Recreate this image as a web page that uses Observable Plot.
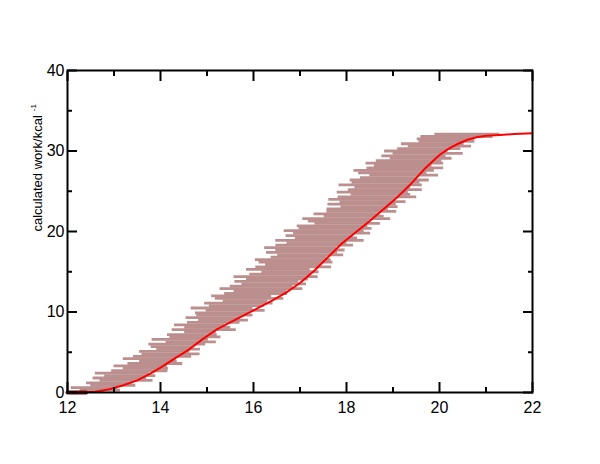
<!DOCTYPE html>
<html>
<head>
<meta charset="utf-8">
<script src="https://cdn.jsdelivr.net/npm/d3@7"></script>
<script src="https://cdn.jsdelivr.net/npm/@observablehq/plot@0.6"></script>
<style>
  html, body { margin: 0; padding: 0; background: #fff; }
  #chart { width: 600px; height: 464px; }
</style>
</head>
<body>
<div id="chart"></div>
<script>
// Band of horizontal x-error bars (y level, left end, right end)
const bandY = [0,0.3,0.6,0.9,1.2,1.5,1.8,2.1,2.4,2.7,3.0,3.3,3.6,3.9,4.2,4.5,4.8,5.1,5.4,5.7,6.0,6.3,6.6,6.9,7.2,7.5,7.8,8.1,8.4,8.7,9.0,9.3,9.6,9.9,10.2,10.5,10.8,11.1,11.4,11.7,12.0,12.3,12.6,12.9,13.2,13.5,13.8,14.1,14.4,14.7,15.0,15.3,15.6,15.9,16.2,16.5,16.8,17.1,17.4,17.7,18.0,18.3,18.6,18.9,19.2,19.5,19.8,20.1,20.4,20.7,21.0,21.3,21.6,21.9,22.2,22.5,22.8,23.1,23.4,23.7,24.0,24.3,24.6,24.9,25.2,25.5,25.8,26.1,26.4,26.7,27.0,27.3,27.6,27.9,28.2,28.5,28.8,29.1,29.4,29.7,30.0,30.3,30.6,30.9,31.2,31.5,31.8,32.1];
const bandLo = [12.0,12.27,12.08,12.5,12.41,12.7,12.55,12.8,12.6,12.95,13.2,13.0,13.3,13.55,13.2,13.42,13.6,13.55,13.92,13.8,13.75,14.12,13.82,14.2,14.15,14.52,14.25,14.52,14.3,14.58,14.82,14.55,14.78,14.75,14.98,14.66,15.05,14.95,15.35,15.18,15.1,15.38,15.58,15.28,15.5,15.75,15.6,15.85,15.58,15.92,16.18,15.85,16.05,16.26,16.12,16.04,16.38,16.52,16.28,16.48,16.24,16.48,16.72,16.48,16.9,16.7,16.86,16.66,16.98,16.94,17.32,17.18,17.06,17.52,17.3,17.58,17.58,17.88,17.6,17.86,17.62,17.82,18.1,17.8,18.04,18.18,17.84,18.12,18.08,18.3,18.5,18.26,18.16,18.44,18.6,18.42,18.64,18.94,18.76,19.0,18.82,19.1,19.33,19.18,19.56,19.52,19.6,19.9];
const bandHi = [12.8,13.14,13.08,13.47,13.39,13.84,13.7,13.9,13.76,14.16,14.17,14.15,14.48,14.36,14.34,14.67,14.85,14.63,14.86,14.69,14.97,15.2,15.03,15.3,15.22,15.2,15.63,15.51,15.38,15.71,15.89,15.72,15.99,15.92,16.25,15.99,16.23,16.42,16.31,16.65,16.39,16.73,16.72,17.06,16.85,17.14,16.97,17.18,17.39,17.25,17.41,17.22,17.68,17.44,17.71,17.67,17.58,17.94,17.81,17.97,17.79,18.15,18.01,18.38,18.24,18.15,18.52,18.38,18.55,18.46,18.73,18.49,18.95,18.81,18.72,19.08,18.9,19.11,19.07,19.28,19.05,19.51,19.38,19.33,19.63,19.38,19.63,19.58,19.78,19.53,19.98,19.73,19.89,20.09,19.84,20.09,20.05,20.27,20.14,20.51,20.18,20.46,20.69,20.53,20.76,20.75,21.15,21.3];

// Red curve (mean work)
const redX = [12.0,12.3,12.6,12.9,13.2,13.5,13.8,14.0,14.3,14.6,14.9,15.2,15.5,15.8,16.1,16.4,16.7,17.0,17.3,17.6,17.9,18.2,18.5,18.8,19.1,19.4,19.7,20.0,20.2,20.4,20.6,20.8,21.0,21.3,21.6,22.0];
const redY = [0.0,0.0,0.1,0.4,0.9,1.5,2.4,3.1,4.2,5.3,6.6,7.8,8.7,9.6,10.5,11.4,12.4,13.6,15.1,16.8,18.5,19.9,21.3,22.8,24.3,26.0,27.9,29.5,30.3,30.9,31.4,31.7,31.9,32.0,32.1,32.2];

// Dark baseline segment at the origin
const baseX = [12.0, 12.4];
const baseY = [0, 0];

// Axis ticks
const xMajor = [12,14,16,18,20,22];
const xMinor = [13,15,17,19,21];
const yMajor = [0,10,20,30,40];
const yMinor = [5,15,25,35];
const yLabel = "calculated work/kcal";
const yLabelSup = "-1";

const band = bandY.map((y, i) => ({y, lo: bandLo[i], hi: bandHi[i]}));
const red = redX.map((x, i) => ({x, y: redY[i]}));
const base = baseX.map((x, i) => ({x, y: baseY[i]}));

const plot = Plot.plot({
  width: 600,
  height: 464,
  marginLeft: 67,
  marginRight: 68,
  marginTop: 70,
  marginBottom: 72,
  x: {domain: [12, 22]},
  y: {domain: [0, 40]},
  style: {fontFamily: "'Liberation Sans', Arial, sans-serif", fontSize: "16px", color: "black", background: "white"},
  marks: [
    Plot.ruleY(band, {y: "y", x1: "lo", x2: "hi", stroke: "#bc8f8f", strokeWidth: 2.8, clip: true}),
    Plot.line(base, {x: "x", y: "y", stroke: "#5a0a0a", strokeWidth: 4}),
    Plot.line(red, {x: "x", y: "y", stroke: "#ff0000", strokeWidth: 2}),
    Plot.frame({stroke: "black", strokeWidth: 2}),
    // inward ticks
    Plot.axisX({anchor: "bottom", ticks: xMajor, tickSize: -10, tickFormat: () => "", label: null, strokeWidth: 2}),
    Plot.axisX({anchor: "bottom", ticks: xMinor, tickSize: -5, tickFormat: () => "", label: null, strokeWidth: 2}),
    Plot.axisX({anchor: "top", ticks: xMajor, tickSize: -10, tickFormat: () => "", label: null, strokeWidth: 2}),
    Plot.axisX({anchor: "top", ticks: xMinor, tickSize: -5, tickFormat: () => "", label: null, strokeWidth: 2}),
    Plot.axisY({anchor: "left", ticks: yMajor, tickSize: -10, tickFormat: () => "", label: null, strokeWidth: 2}),
    Plot.axisY({anchor: "left", ticks: yMinor, tickSize: -5, tickFormat: () => "", label: null, strokeWidth: 2}),
    Plot.axisY({anchor: "right", ticks: yMajor, tickSize: -10, tickFormat: () => "", label: null, strokeWidth: 2}),
    Plot.axisY({anchor: "right", ticks: yMinor, tickSize: -5, tickFormat: () => "", label: null, strokeWidth: 2}),
    // tick labels
    Plot.axisX({anchor: "bottom", ticks: xMajor, tickSize: 0, tickPadding: 9, label: null, fontSize: 16}),
    Plot.axisY({anchor: "left", ticks: yMajor, tickSize: 0, tickPadding: 3, label: null, fontSize: 16}),
    // y title
    Plot.text([yLabel], {frameAnchor: "left", dx: -30, rotate: -90, fontSize: 13, fill: "black"})
  ]
});

// superscript on the y title
plot.querySelectorAll("text").forEach(t => {
  if (t.textContent === yLabel) {
    const ts = document.createElementNS("http://www.w3.org/2000/svg", "tspan");
    ts.setAttribute("dx", "4");
    ts.setAttribute("dy", "-6");
    ts.setAttribute("font-size", "8");
    ts.textContent = yLabelSup;
    t.appendChild(ts);
  }
});

document.getElementById("chart").appendChild(plot);
</script>
</body>
</html>
